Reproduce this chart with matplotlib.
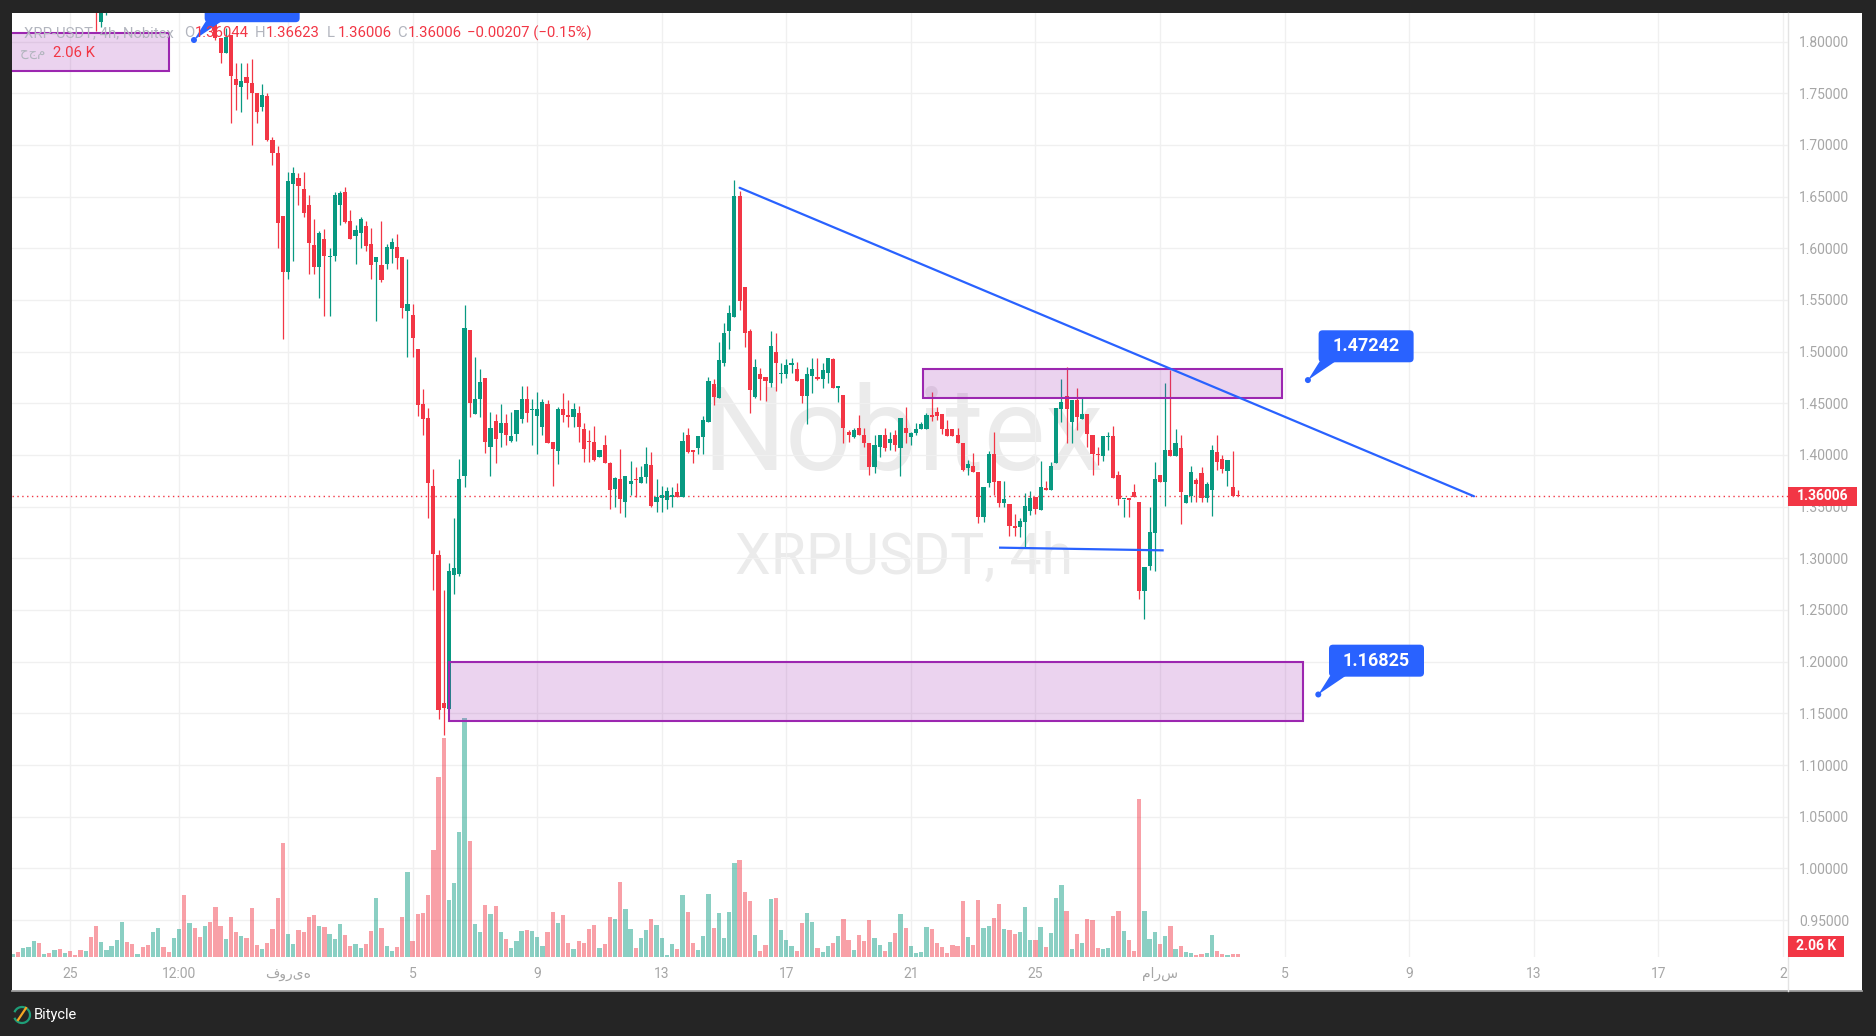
import numpy as np
import matplotlib
matplotlib.use("Agg")
import matplotlib.pyplot as plt
from matplotlib.patches import Rectangle, FancyBboxPatch, Polygon, Circle, Arc
from matplotlib.transforms import ScaledTranslation

plt.rcParams['font.family'] = ['Roboto', 'DejaVu Sans']

# ---------------- data (XRP-USDT 4h candles, index 0 = first candle) ----------------
open_ = [
    1.890, 1.900, 1.893, 1.905, 1.915, 1.930, 1.918, 1.922, 1.915, 1.920,
    1.910, 1.914, 1.900, 1.894, 1.880, 1.886, 1.860, 1.8192, 1.845, 1.858,
    1.875, 1.890, 1.905, 1.895, 1.888, 1.893, 1.885, 1.876, 1.890, 1.905,
    1.898, 1.890, 1.896, 1.903, 1.870, 1.878, 1.865, 1.858, 1.862, 1.845,
    1.8031, 1.7892, 1.8063, 1.7637, 1.7563, 1.7653, 1.7602, 1.7499, 1.7370, 1.7473,
    1.7047, 1.6921, 1.6313, 1.5773, 1.6625, 1.6680, 1.6573, 1.6417, 1.6032, 1.5814,
    1.6088, 1.5918, 1.5921, 1.6421, 1.6543, 1.6262, 1.6121, 1.6150, 1.6214, 1.6039,
    1.5862, 1.5836, 1.5851, 1.5995, 1.6014, 1.5914, 1.5395, 1.5355, 1.5025, 1.4492,
    1.4358, 1.3700, 1.3033, 1.1600, 1.1545, 1.2840, 1.2852, 1.3800, 1.5210, 1.4396,
    1.4540, 1.4744, 1.4081, 1.4329, 1.4211, 1.4311, 1.4138, 1.4206, 1.4351, 1.4541,
    1.4432, 1.4380, 1.4274, 1.4493, 1.4125, 1.4041, 1.4448, 1.4387, 1.4371, 1.4409,
    1.4251, 1.4125, 1.4122, 1.3983, 1.4096, 1.3919, 1.3667, 1.3764, 1.3548, 1.3719,
    1.3761, 1.3732, 1.3783, 1.3903, 1.3548, 1.3580, 1.3564, 1.3596, 1.3641, 1.3590,
    1.4193, 1.4048, 1.4070, 1.4170, 1.4322, 1.4686, 1.4554, 1.4893, 1.5199, 1.5338,
    1.6505, 1.5628, 1.5199, 1.4564, 1.4783, 1.4757, 1.4693, 1.4993, 1.4780, 1.4783,
    1.4870, 1.4828, 1.4735, 1.4574, 1.4760, 1.4757, 1.4735, 1.4790, 1.4928, 1.4645,
    1.4580, 1.4225, 1.4177, 1.4264, 1.4193, 1.4112, 1.3887, 1.4074, 1.4193, 1.4112,
    1.4193, 1.4070, 1.4264, 1.4177, 1.4209, 1.4248, 1.4248, 1.4387, 1.4412, 1.4396,
    1.4248, 1.4248, 1.4193, 1.4112, 1.3877, 1.3893, 1.3838, 1.3403, 1.3732, 1.4009,
    1.3748, 1.3538, 1.3526, 1.3313, 1.3306, 1.3355, 1.3461, 1.3596, 1.3468, 1.3680,
    1.3661, 1.3919, 1.4445, 1.4570, 1.4322, 1.4532, 1.4345, 1.4396, 1.4193, 1.4003,
    1.3990, 1.4170, 1.4183, 1.3806, 1.3571, 1.3587, 1.3638, 1.3542, 1.2687, 1.2929,
    1.3248, 1.3806, 1.3742, 1.4048, 1.3990, 1.4064, 1.3538, 1.3603, 1.3758, 1.3822,
    1.3580, 1.3661, 1.4025, 1.3961, 1.3848, 1.3693, 1.36044,
]
high = [
    1.905, 1.906, 1.910, 1.920, 1.938, 1.934, 1.926, 1.925, 1.924, 1.922,
    1.918, 1.916, 1.903, 1.897, 1.890, 1.888, 1.864, 1.852, 1.862, 1.878,
    1.893, 1.912, 1.908, 1.899, 1.898, 1.896, 1.889, 1.894, 1.910, 1.907,
    1.901, 1.900, 1.908, 1.906, 1.884, 1.881, 1.869, 1.868, 1.866, 1.850,
    1.8031, 1.8134, 1.8063, 1.7789, 1.7789, 1.7789, 1.7827, 1.7499, 1.7586, 1.7500,
    1.7080, 1.6990, 1.6313, 1.6739, 1.6787, 1.6728, 1.6739, 1.6513, 1.6284, 1.6165,
    1.6188, 1.6002, 1.6543, 1.6554, 1.6591, 1.6369, 1.6225, 1.6302, 1.6262, 1.6195,
    1.5914, 1.6262, 1.6043, 1.6099, 1.6136, 1.5914, 1.5895, 1.5462, 1.5025, 1.4636,
    1.4455, 1.3862, 1.3077, 1.2692, 1.2959, 1.3389, 1.3959, 1.5451, 1.5210, 1.4947,
    1.4832, 1.4744, 1.4414, 1.4396, 1.4492, 1.4396, 1.4415, 1.4435, 1.4667, 1.4667,
    1.4538, 1.4606, 1.4544, 1.4532, 1.4125, 1.4467, 1.4603, 1.4532, 1.4499, 1.4474,
    1.4306, 1.4241, 1.4280, 1.4048, 1.4193, 1.3932, 1.3790, 1.4057, 1.3796, 1.3941,
    1.3887, 1.3893, 1.4080, 1.4029, 1.3767, 1.3700, 1.3693, 1.3687, 1.3732, 1.4225,
    1.4258, 1.4048, 1.4183, 1.4380, 1.4757, 1.4732, 1.5090, 1.5273, 1.5451, 1.6660,
    1.6554, 1.5628, 1.5215, 1.4928, 1.4838, 1.4757, 1.5199, 1.5177, 1.4886, 1.4925,
    1.4935, 1.4902, 1.4735, 1.4854, 1.4935, 1.4935, 1.4886, 1.4935, 1.4935, 1.4668,
    1.4580, 1.4241, 1.4258, 1.4387, 1.4264, 1.4112, 1.4193, 1.4193, 1.4264, 1.4225,
    1.4241, 1.4354, 1.4467, 1.4225, 1.4306, 1.4322, 1.4403, 1.4612, 1.4467, 1.4396,
    1.4338, 1.4248, 1.4258, 1.4112, 1.3951, 1.4016, 1.3838, 1.3693, 1.4041, 1.4222,
    1.3748, 1.3748, 1.3526, 1.3429, 1.3387, 1.3629, 1.3655, 1.3596, 1.3941, 1.3748,
    1.3935, 1.4451, 1.4732, 1.4854, 1.4532, 1.4644, 1.4548, 1.4396, 1.4193, 1.4080,
    1.4183, 1.4225, 1.4280, 1.3845, 1.3577, 1.3587, 1.3716, 1.3542, 1.2913, 1.3500,
    1.3929, 1.3806, 1.4699, 1.4822, 1.4251, 1.4193, 1.3612, 1.3893, 1.3774, 1.3887,
    1.3741, 1.4096, 1.4193, 1.3999, 1.3951, 1.4041, 1.36623,
]
low = [
    1.884, 1.888, 1.890, 1.900, 1.912, 1.912, 1.914, 1.910, 1.911, 1.905,
    1.906, 1.896, 1.890, 1.876, 1.875, 1.855, 1.8105, 1.8137, 1.826, 1.852,
    1.870, 1.886, 1.890, 1.884, 1.885, 1.881, 1.871, 1.872, 1.886, 1.893,
    1.886, 1.886, 1.892, 1.862, 1.865, 1.860, 1.852, 1.850, 1.824, 1.801,
    1.7789, 1.7892, 1.7208, 1.7337, 1.7321, 1.7447, 1.6999, 1.7208, 1.7328, 1.7040,
    1.6802, 1.6006, 1.5125, 1.5706, 1.5877, 1.6414, 1.6302, 1.5754, 1.5754, 1.5514,
    1.5347, 1.5347, 1.5877, 1.6228, 1.6247, 1.6091, 1.5851, 1.6006, 1.5973, 1.5706,
    1.5299, 1.5673, 1.5799, 1.5855, 1.5803, 1.5329, 1.4951, 1.4951, 1.4377, 1.4192,
    1.3392, 1.2692, 1.1445, 1.1293, 1.1545, 1.2655, 1.2833, 1.3692, 1.4370, 1.4396,
    1.4370, 1.4018, 1.3800, 1.3925, 1.4081, 1.4099, 1.4130, 1.4138, 1.4306, 1.4322,
    1.4099, 1.4009, 1.4190, 1.4119, 1.3703, 1.3916, 1.4316, 1.4274, 1.4274, 1.4128,
    1.3935, 1.3935, 1.3945, 1.3976, 1.3919, 1.3474, 1.3493, 1.3435, 1.3403, 1.3613,
    1.3596, 1.3725, 1.3725, 1.3500, 1.3451, 1.3451, 1.3477, 1.3500, 1.3590, 1.3590,
    1.4022, 1.3919, 1.4006, 1.4006, 1.4322, 1.4483, 1.4554, 1.4861, 1.5022, 1.5338,
    1.5402, 1.5048, 1.4403, 1.4548, 1.4532, 1.4525, 1.4661, 1.4622, 1.4693, 1.4741,
    1.4796, 1.4719, 1.4499, 1.4296, 1.4596, 1.4725, 1.4645, 1.4693, 1.4645, 1.4516,
    1.4119, 1.4129, 1.4161, 1.4193, 1.4074, 1.3806, 1.3822, 1.3983, 1.4041, 1.4048,
    1.4041, 1.3800, 1.4112, 1.4096, 1.4193, 1.4248, 1.4248, 1.4332, 1.4338, 1.4200,
    1.4187, 1.4180, 1.4112, 1.3848, 1.3806, 1.3838, 1.3345, 1.3354, 1.3693, 1.3613,
    1.3500, 1.3500, 1.3219, 1.3219, 1.3209, 1.3113, 1.3419, 1.3429, 1.3468, 1.3661,
    1.3661, 1.3919, 1.4322, 1.4119, 1.4119, 1.4241, 1.4345, 1.4080, 1.3806, 1.3903,
    1.3945, 1.4048, 1.3780, 1.3516, 1.3397, 1.3403, 1.3596, 1.2603, 1.2409, 1.2887,
    1.2880, 1.3742, 1.3506, 1.3990, 1.3990, 1.3329, 1.3538, 1.3548, 1.3548, 1.3548,
    1.3548, 1.3413, 1.3854, 1.3829, 1.3700, 1.3603, 1.36006,
]
close = [
    1.900, 1.893, 1.905, 1.915, 1.930, 1.918, 1.922, 1.915, 1.920, 1.910,
    1.914, 1.900, 1.894, 1.880, 1.886, 1.860, 1.832, 1.845, 1.858, 1.875,
    1.890, 1.905, 1.895, 1.888, 1.893, 1.885, 1.876, 1.890, 1.905, 1.898,
    1.890, 1.896, 1.903, 1.870, 1.878, 1.865, 1.858, 1.862, 1.845, 1.8031,
    1.7892, 1.8047, 1.7666, 1.7582, 1.7618, 1.7602, 1.7499, 1.7321, 1.7483, 1.7047,
    1.6921, 1.6247, 1.5773, 1.6654, 1.6728, 1.6606, 1.6339, 1.6054, 1.5821, 1.6147,
    1.5921, 1.5922, 1.6513, 1.6536, 1.6254, 1.6091, 1.6180, 1.6284, 1.6025, 1.5840,
    1.5914, 1.5695, 1.6014, 1.6062, 1.5910, 1.5425, 1.5462, 1.5136, 1.4488, 1.4351,
    1.3733, 1.3037, 1.1537, 1.1556, 1.2877, 1.2907, 1.3766, 1.5229, 1.4507, 1.4540,
    1.4707, 1.4129, 1.4259, 1.4155, 1.4311, 1.4192, 1.4183, 1.4435, 1.4541, 1.4409,
    1.4448, 1.4441, 1.4512, 1.4119, 1.4054, 1.4448, 1.4387, 1.4371, 1.4448, 1.4274,
    1.4054, 1.4122, 1.3951, 1.4048, 1.3919, 1.3661, 1.3774, 1.3574, 1.3796, 1.3748,
    1.3758, 1.3783, 1.3912, 1.3506, 1.3590, 1.3609, 1.3651, 1.3612, 1.3596, 1.4135,
    1.4032, 1.4029, 1.4183, 1.4338, 1.4715, 1.4564, 1.4919, 1.5183, 1.5370, 1.6505,
    1.5493, 1.5177, 1.4628, 1.4848, 1.4735, 1.4719, 1.5054, 1.4893, 1.4783, 1.4870,
    1.4893, 1.4719, 1.4574, 1.4783, 1.4828, 1.4735, 1.4822, 1.4935, 1.4645, 1.4668,
    1.4257, 1.4193, 1.4241, 1.4193, 1.4112, 1.3887, 1.4096, 1.4193, 1.4064, 1.4151,
    1.4100, 1.4354, 1.4215, 1.4209, 1.4251, 1.4299, 1.4383, 1.4371, 1.4380, 1.4251,
    1.4187, 1.4187, 1.4112, 1.3854, 1.3909, 1.3838, 1.3396, 1.3693, 1.4009, 1.3741,
    1.3538, 1.3574, 1.3316, 1.3290, 1.3361, 1.3506, 1.3587, 1.3474, 1.3693, 1.3661,
    1.3893, 1.4451, 1.4509, 1.4441, 1.4532, 1.4370, 1.4396, 1.4203, 1.4009, 1.3999,
    1.4183, 1.4173, 1.3780, 1.3571, 1.3577, 1.3564, 1.3596, 1.2687, 1.2913, 1.3251,
    1.3767, 1.3742, 1.4048, 1.3990, 1.4112, 1.3645, 1.3612, 1.3835, 1.3719, 1.3580,
    1.3719, 1.4048, 1.3935, 1.3861, 1.3951, 1.3603, 1.36006,
]
volume = [
    3, 5, 9, 10, 16, 14, 3, 4, 7, 8,
    4, 6, 2, 7, 6, 20, 31, 15, 7, 11,
    17, 35, 15, 13, 3, 10, 12, 25, 29, 10,
    5, 19, 28, 62, 34, 29, 20, 31, 35, 50,
    31, 18, 40, 25, 21, 19, 49, 12, 8, 14,
    28, 59, 114, 23, 13, 27, 25, 40, 42, 31,
    30, 23, 18, 33, 22, 11, 13, 9, 13, 26,
    59, 29, 11, 6, 10, 40, 85, 16, 43, 44,
    62, 107, 180, 219, 57, 74, 125, 239, 116, 33,
    25, 52, 43, 51, 25, 18, 9, 16, 26, 27,
    26, 20, 11, 25, 45, 34, 42, 14, 8, 16,
    14, 28, 32, 9, 13, 40, 38, 75, 48, 28,
    9, 19, 27, 38, 32, 19, 2, 13, 8, 62,
    45, 14, 7, 21, 63, 29, 44, 19, 45, 94,
    97, 65, 56, 22, 6, 12, 58, 59, 27, 17,
    11, 6, 34, 44, 35, 9, 5, 11, 14, 21,
    38, 17, 7, 22, 16, 37, 19, 12, 6, 15,
    24, 43, 29, 11, 4, 5, 30, 28, 14, 10,
    4, 12, 11, 56, 20, 12, 57, 29, 31, 39,
    53, 28, 27, 23, 25, 50, 17, 17, 30, 10,
    24, 59, 72, 46, 8, 23, 14, 38, 37, 9,
    8, 9, 41, 46, 26, 17, 6, 158, 46, 18,
    25, 13, 21, 31, 8, 11, 5, 4, 2, 3,
    4, 22, 6, 3, 2, 3, 3,
]

time_tick_idx = [11, 32, 53, 77, 101, 125, 149, 173, 197, 221, 245, 269, 293, 317, 341]
time_tick_labels = ['25', '12:00', 'فوریه', '5', '9', '13', '17', '21', '25', 'مارس',
                    '5', '9', '13', '17', '2']
price_ticks = [0.95, 1.00, 1.05, 1.10, 1.15, 1.20, 1.25, 1.30, 1.35, 1.40,
               1.45, 1.50, 1.55, 1.60, 1.65, 1.70, 1.75, 1.80]

# drawings (x in candle index, y in price)
trend_x = [140.0, 281.5]
trend_y = [1.6585, 1.3600]
support_x = [190.2, 221.5]
support_y = [1.3103, 1.3077]
zone_top = dict(x0=175.3, x1=244.6, y0=1.4554, y1=1.4831)
zone_bottom = dict(x0=84.07, x1=248.6, y0=1.1426, y1=1.2001)
zone_left = dict(x0=-6.0, x1=30.06, y0=1.7715, y1=1.8079)
callouts = [(249.5, 1.47242, '1.47242'), (251.5, 1.16825, '1.16825'), (34.87, 1.80145, '1.80145')]
last_price = 1.36006
header_vals = ['1.36044', '1.36623', '1.36006', '1.36006']
header_change = '\u22120.00207 (\u22120.15%)'
last_volume_label = '2.06 K'

# ---------------- style ----------------
GREEN = '#089981'
RED = '#f23645'
BLUE = '#2962ff'
PURPLE = '#9c27b0'
DARK = '#252525'
GRID = '#f0f0f0'
AXTXT = '#a6a6a6'

W, H, DPI = 1876, 1036, 100
fig = plt.figure(figsize=(W / DPI, H / DPI), dpi=DPI, facecolor=DARK)

# background in pixel coordinates
bg = fig.add_axes([0, 0, 1, 1], zorder=0)
bg.set_xlim(0, W); bg.set_ylim(H, 0); bg.axis('off')
bg.add_patch(Rectangle((12, 12.7), 1850, 978.3, fc='white', ec='none'))
bg.plot([12, 1862], [991, 991], color='#9c9c9c', lw=1.3)
bg.plot([1788, 1788], [12.7, 991], color='#e3e3e3', lw=1)
bg.text(702, 470, 'Nobitex', fontsize=84, color='#ebebeb', ha='left', va='baseline')
bg.text(735, 574, 'XRPUSDT, 4h', fontsize=41, color='#ebebeb', ha='left', va='baseline')
# footer logo + name
bg.add_patch(Arc((22, 1015), 16, 16, theta1=200, theta2=520, color='#1e9e78', lw=1.6))
bg.plot([18, 26], [1020, 1008], color='#f5a623', lw=1.6)
bg.text(34, 1015, 'Bitycle', color='white', fontsize=10.5, ha='left', va='center')

pos = [12 / W, (H - 957) / H, 1776 / W, (957 - 12.7) / H]
xlim = (-0.19, 342.0)
ylim = (0.914261, 1.827864)

# grid
gax = fig.add_axes(pos, zorder=1)
gax.axis('off'); gax.set_xlim(xlim); gax.set_ylim(ylim)
for t in price_ticks:
    gax.axhline(t, color=GRID, lw=1)
for t in time_tick_idx:
    gax.axvline(t, color=GRID, lw=1)

x = np.arange(len(close))
o = np.array(open_); c = np.array(close); hi = np.array(high); lo = np.array(low)
up = c >= o
cols = np.where(up, GREEN, RED)

# volume
vax = fig.add_axes(pos, zorder=2)
vax.axis('off'); vax.set_xlim(xlim); vax.set_ylim(0, 944.3)
vax.bar(x, volume, width=0.82, color=cols, alpha=0.47, linewidth=0)

# price
ax = fig.add_axes(pos, zorder=3)
ax.patch.set_alpha(0)
ax.set_xlim(xlim); ax.set_ylim(ylim)
for s in ax.spines.values():
    s.set_visible(False)

ax.axhline(last_price, color=RED, lw=1, ls=(0, (1, 2.5)), zorder=1)
ax.vlines(x, lo, hi, colors=cols, lw=0.9, zorder=3)
body_b = np.minimum(o, c)
body_h = np.maximum(np.abs(c - o), 0.0009)
ax.bar(x, body_h, bottom=body_b, width=0.8, color=cols, linewidth=0, zorder=4)

for z in (zone_top, zone_bottom, zone_left):
    ax.add_patch(Rectangle((z['x0'], z['y0']), z['x1'] - z['x0'], z['y1'] - z['y0'],
                           fc=(0.612, 0.153, 0.690, 0.2), ec=PURPLE, lw=1.5, zorder=5))

ax.plot(trend_x, trend_y, color=BLUE, lw=1.6, zorder=6, solid_capstyle='round')
ax.plot(support_x, support_y, color=BLUE, lw=1.6, zorder=6)

for cx, cy, lab in callouts:
    tr = ScaledTranslation(cx, cy, ax.transData)
    ax.add_patch(FancyBboxPatch((10.7, 17.8), 95, 32, boxstyle='round,pad=0,rounding_size=4',
                                transform=tr, fc=BLUE, ec='none', zorder=8))
    ax.add_patch(Polygon([(0, 0), (12, 19), (28, 19)], closed=True, transform=tr,
                         fc=BLUE, ec='none', zorder=8))
    ax.add_patch(Circle((0, 0), 3, transform=tr, fc=BLUE, ec='none', zorder=9))
    ax.text(58.2, 33.8, lab, transform=tr, ha='center', va='center', color='white',
            fontsize=13, fontweight='bold', zorder=10, clip_on=True)

# axes ticks
ax.set_xticks(time_tick_idx)
ax.set_xticklabels(time_tick_labels)
ax.tick_params(axis='x', length=0, pad=7, labelsize=10, labelcolor=AXTXT)
ax.yaxis.tick_right()
ax.set_yticks(price_ticks)
ax.set_yticklabels([f'{t:.5f}' for t in price_ticks])
ax.tick_params(axis='y', length=0, pad=8, labelsize=10, labelcolor=AXTXT)

# last price label on the price scale
ytr = ax.get_yaxis_transform()
ax.add_patch(Rectangle((1.0, last_price - 0.0092), 69 / 1776, 0.0184, transform=ytr,
                       fc=RED, ec='none', clip_on=False, zorder=20))
ax.text(1.0 + 34.5 / 1776, last_price, f'{last_price:.5f}', transform=ytr, ha='center',
        va='center', color='white', fontsize=10, fontweight='bold', clip_on=False, zorder=21)

# overlay (legend / header)
fg = fig.add_axes([0, 0, 1, 1], zorder=10)
fg.set_xlim(0, W); fg.set_ylim(H, 0); fg.axis('off'); fg.patch.set_alpha(0)
HDR = '#b2b5be'
fs = 10.7
fg.text(24, 33, 'XRP-USDT, 4h, Nobitex', color=HDR, fontsize=fs, va='center')
for lx, letter, val in zip([184, 255, 327, 397], ['O', 'H', 'L', 'C'], header_vals):
    fg.text(lx, 33, letter, color=HDR, fontsize=fs, va='center')
    fg.text(lx + 11, 33, val, color=RED, fontsize=fs, va='center')
fg.text(467, 33, header_change, color=RED, fontsize=fs, va='center')
fg.text(45, 53, 'حجم', color=HDR, fontsize=9.5, ha='right', va='center')
fg.text(53, 53, last_volume_label, color=RED, fontsize=fs, va='center')
fg.add_patch(Rectangle((1788, 936), 56, 21, fc=RED, ec='none'))
fg.text(1816, 946.5, last_volume_label, color='white', fontsize=10, fontweight='bold',
        ha='center', va='center')

fig.savefig('out.png', dpi=DPI, facecolor=DARK)
